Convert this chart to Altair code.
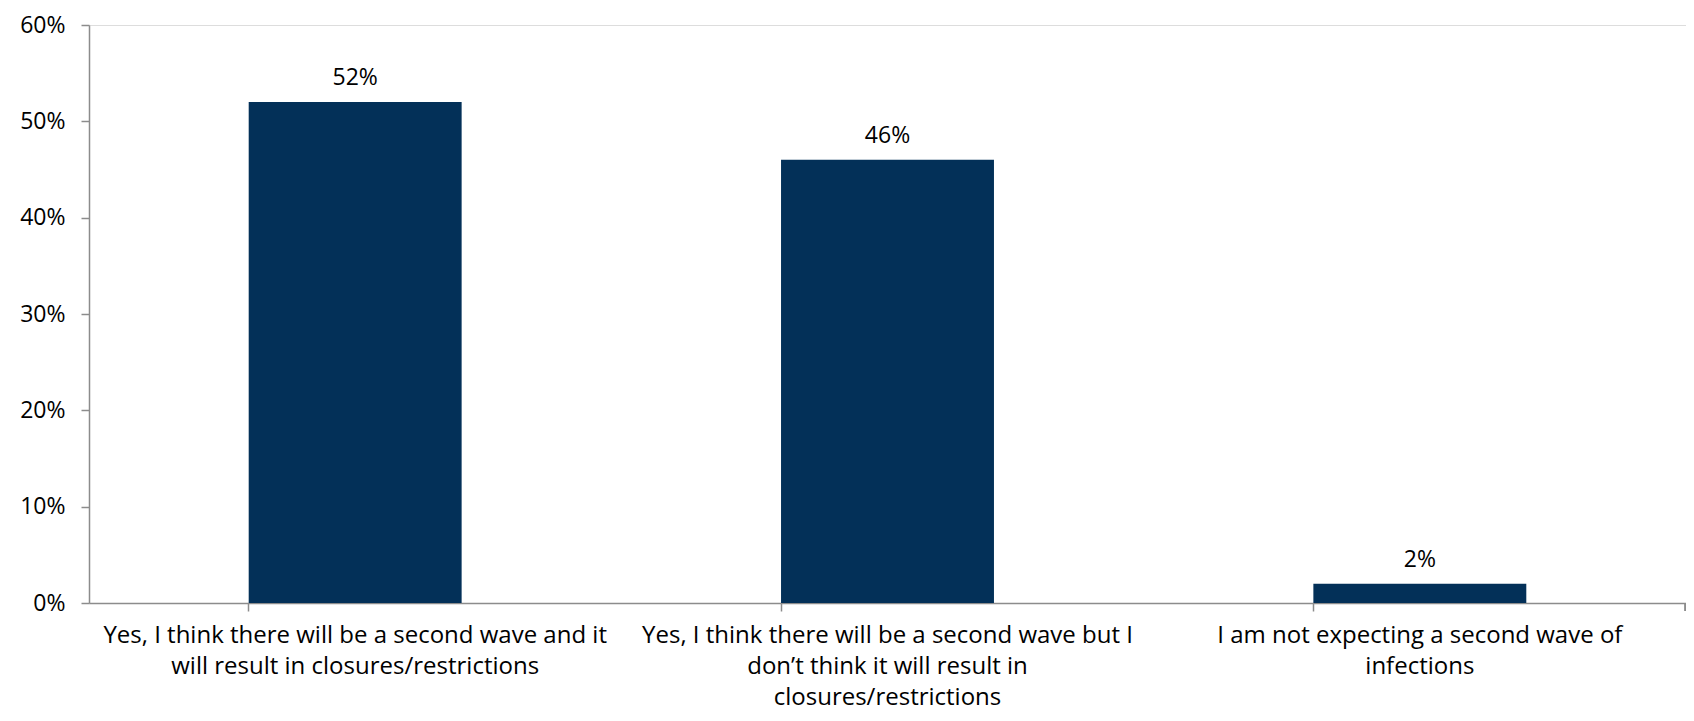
import altair as alt
import pandas as pd

categories = [
    "Yes, I think there will be a second wave and it\nwill result in closures/restrictions",
    "Yes, I think there will be a second wave but I\ndon\u2019t think it will result in\nclosures/restrictions",
    "I am not expecting a second wave of\ninfections",
]
values = [0.52, 0.46, 0.02]
y_ticks = [0, 0.1, 0.2, 0.3, 0.4, 0.5, 0.6]

df = pd.DataFrame({"cat": categories, "val": values})

W, H = 1597, 578
AXIS = "#8c8c8c"
BAR = "#033058"
NUMFONT = "Open Sans"
LABFONT = "Open Sans"

x = alt.X(
    "cat:N",
    sort=categories,
    title=None,
    scale=alt.Scale(paddingInner=0.6, paddingOuter=0.3),
    axis=alt.Axis(
        labelAngle=0,
        labelExpr="split(datum.label, '\\n')",
        labelFont=LABFONT,
        labelFontSize=24,
        labelLineHeight=31,
        labelColor="black",
        labelPadding=12,
        labelLimit=0,
        bandPosition=0,
        tickSize=8,
        tickColor=AXIS,
        tickWidth=1.5,
        domainColor=AXIS,
        domainWidth=1.5,
        grid=False,
    ),
)
y = alt.Y(
    "val:Q",
    title=None,
    scale=alt.Scale(domain=[0, 0.6], nice=False),
    axis=alt.Axis(
        values=y_ticks,
        format=".0%",
        labelFont=NUMFONT,
        labelFontSize=23,
        labelColor="black",
        labelPadding=16,
        tickSize=8,
        tickColor=AXIS,
        tickWidth=1.5,
        domainColor=AXIS,
        domainWidth=1.5,
        grid=False,
    ),
)

bars = alt.Chart(df).mark_bar(color=BAR).encode(x=x, y=y)
text = alt.Chart(df).mark_text(
    baseline="bottom", dy=-12, font=NUMFONT, fontSize=23, color="black"
).encode(x=alt.X("cat:N", sort=categories), y="val:Q", text=alt.Text("val:Q", format=".0%"))
end_tick = alt.Chart(df).mark_rule(color=AXIS, strokeWidth=1.5).encode(
    x=alt.value(W - 0.75), y=alt.value(H), y2=alt.value(H + 8)
)

chart = (
    alt.layer(bars, text, end_tick)
    .properties(
        width=W,
        height=H,
        autosize=alt.AutoSizeParams(type="none"),
        padding={"left": 81, "top": 17, "right": 0, "bottom": 110},
    )
    .configure_view(stroke=None)
    .configure(background="white")
)

chart.save("out.html", embed_options={"renderer": "svg", "actions": False})
